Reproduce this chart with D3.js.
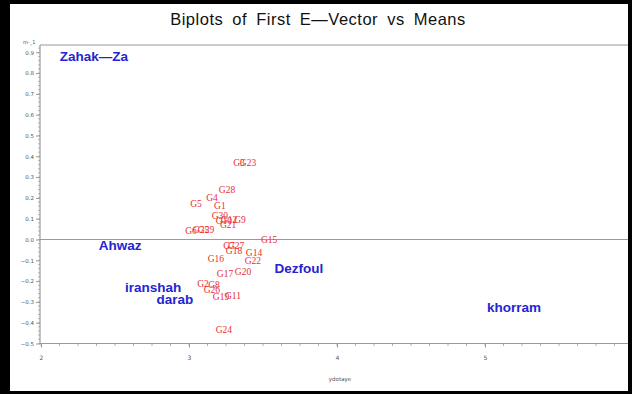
<!DOCTYPE html>
<html>
<head>
<meta charset="utf-8">
<script src="https://cdn.jsdelivr.net/npm/d3@7"></script>
<style>
  html, body { margin: 0; padding: 0; background: #fff; }
  svg { display: block; }
</style>
</head>
<body>
<svg id="chart" width="632" height="394"></svg>
<script>
// Environment scores (blue) and genotype scores (red) on the biplot
const environments = ["Zahak\u2014Za", "Ahwaz", "iranshah", "darab", "Dezfoul", "khorram"];
const envMeans  = [2.358, 2.534, 2.757, 2.905, 3.743, 5.196];
const envVector = [0.882, -0.026, -0.228, -0.286, -0.137, -0.325];

const genotypes = ["G3", "G23", "G28", "G4", "G5", "G1", "G30", "G10", "G12", "G9", "G21",
  "G6", "G25", "G29", "G15", "G7", "G27", "G18", "G14", "G16", "G22", "G17", "G20",
  "G2", "G8", "G26", "G19", "G11", "G24"];
const genMeans = [3.338, 3.399, 3.257, 3.155, 3.047, 3.209, 3.209, 3.236, 3.270, 3.345, 3.264,
  3.014, 3.081, 3.115, 3.541, 3.270, 3.318, 3.304, 3.439, 3.182, 3.432, 3.243, 3.365,
  3.095, 3.169, 3.155, 3.216, 3.297, 3.236];
const genVector = [0.368, 0.368, 0.238, 0.200, 0.171, 0.161, 0.113, 0.089, 0.094, 0.094, 0.070,
  0.043, 0.046, 0.048, -0.002, -0.031, -0.031, -0.055, -0.065, -0.094, -0.103, -0.166, -0.156,
  -0.212, -0.219, -0.240, -0.276, -0.269, -0.435];

const xTicks = [2, 3, 4, 5, 6];
const yTicks = [-0.5, -0.4, -0.3, -0.2, -0.1, 0.0, 0.1, 0.2, 0.3, 0.4, 0.5, 0.6, 0.7, 0.8, 0.9];

const svg = d3.select("#chart");
const W = 632, H = 394;

const plot = { left: 40, right: 633, top: 45, bottom: 343.5 };
const x = d3.scaleLinear().domain([2, 6]).range([41, 633]);
const y = d3.scaleLinear().domain([-0.5, 0.935]).range([plot.bottom, plot.top]);

const axisColor = "#9a9a9a";
const tickText = "#555";

// Title
svg.append("text")
  .attr("x", 318).attr("y", 25)
  .attr("text-anchor", "middle")
  .attr("font-family", "Liberation Sans, Arial, sans-serif")
  .attr("font-size", 16.5)
  .attr("fill", "#111")
  .attr("letter-spacing", 0.5)
  .attr("word-spacing", 4)
  .text("Biplots of First E\u2014Vector vs Means");

// Frame top line
svg.append("line")
  .attr("x1", plot.left).attr("x2", W)
  .attr("y1", plot.top).attr("y2", plot.top)
  .attr("stroke", "#bbb").attr("stroke-width", 1.5);

// Zero reference line
svg.append("line")
  .attr("x1", plot.left).attr("x2", W)
  .attr("y1", y(0)).attr("y2", y(0))
  .attr("stroke", axisColor).attr("stroke-width", 1.2);

// Y axis with minor ticks
const yMinor = d3.range(-0.5, 0.9201, 0.02);
const yAxisG = svg.append("g").attr("transform", `translate(${plot.left},0)`);
yAxisG.append("line")
  .attr("x1", 0).attr("x2", 0).attr("y1", plot.top).attr("y2", plot.bottom)
  .attr("stroke", axisColor).attr("stroke-width", 1.2);
yAxisG.selectAll("line.minor").data(yMinor).join("line")
  .attr("class", "minor")
  .attr("x1", -2).attr("x2", 0)
  .attr("y1", d => y(d)).attr("y2", d => y(d))
  .attr("stroke", axisColor).attr("stroke-width", 0.7);
yAxisG.call(d3.axisLeft(y).tickValues(yTicks).tickSize(4).tickFormat(d3.format(".1f")))
  .call(g => g.select(".domain").remove())
  .call(g => g.selectAll(".tick line").attr("stroke", axisColor))
  .call(g => g.selectAll(".tick text")
    .attr("fill", tickText).attr("font-size", 5.5)
    .attr("font-family", "DejaVu Sans, sans-serif").attr("x", -6));
svg.append("text")
  .attr("x", 23).attr("y", 44)
  .attr("font-size", 5).attr("fill", tickText)
  .attr("font-family", "DejaVu Sans, sans-serif")
  .text("m-_1");

// X axis with minor ticks
const xMinor = d3.range(2, 6.0001, 0.125);
const xAxisG = svg.append("g").attr("transform", `translate(0,${plot.bottom})`);
xAxisG.append("line")
  .attr("x1", plot.left).attr("x2", W).attr("y1", 0).attr("y2", 0)
  .attr("stroke", axisColor).attr("stroke-width", 1.2);
xAxisG.selectAll("line.minor").data(xMinor).join("line")
  .attr("class", "minor")
  .attr("x1", d => x(d)).attr("x2", d => x(d))
  .attr("y1", 0).attr("y2", 2.5)
  .attr("stroke", axisColor).attr("stroke-width", 0.8);
xAxisG.call(d3.axisBottom(x).tickValues(xTicks).tickSize(4).tickFormat(d3.format("d")))
  .call(g => g.select(".domain").remove())
  .call(g => g.selectAll(".tick line").attr("stroke", axisColor))
  .call(g => g.selectAll(".tick text")
    .attr("fill", tickText).attr("font-size", 6)
    .attr("font-family", "DejaVu Sans, sans-serif").attr("y", 12));

svg.append("text")
  .attr("x", 340).attr("y", 381)
  .attr("text-anchor", "middle")
  .attr("font-size", 5.5).attr("fill", tickText)
  .attr("font-family", "DejaVu Sans, sans-serif")
  .text("ydotaye");

// Genotype labels
svg.append("g").selectAll("text").data(genotypes).join("text")
  .attr("x", (d, i) => x(genMeans[i]))
  .attr("y", (d, i) => y(genVector[i]))
  .attr("dy", "0.35em")
  .attr("text-anchor", "middle")
  .attr("font-family", "Liberation Serif, Times New Roman, serif")
  .attr("font-size", 9.5)
  .attr("fill", "#e8302f")
  .text(d => d);

// Environment labels
svg.append("g").selectAll("text").data(environments).join("text")
  .attr("x", (d, i) => x(envMeans[i]))
  .attr("y", (d, i) => y(envVector[i]))
  .attr("dy", "0.35em")
  .attr("text-anchor", "middle")
  .attr("font-family", "Liberation Sans, Arial, sans-serif")
  .attr("font-weight", "bold")
  .attr("font-size", 13.5)
  .attr("fill", "#2424d2")
  .text(d => d);

// Outer black border
const border = svg.append("g").attr("fill", "#000");
border.append("rect").attr("x", 0).attr("y", 0).attr("width", 10).attr("height", H);
border.append("rect").attr("x", 0).attr("y", 0).attr("width", W).attr("height", 4);
border.append("rect").attr("x", W - 4).attr("y", 0).attr("width", 4).attr("height", H);
border.append("rect").attr("x", 0).attr("y", H - 3).attr("width", W).attr("height", 3);
</script>
</body>
</html>
